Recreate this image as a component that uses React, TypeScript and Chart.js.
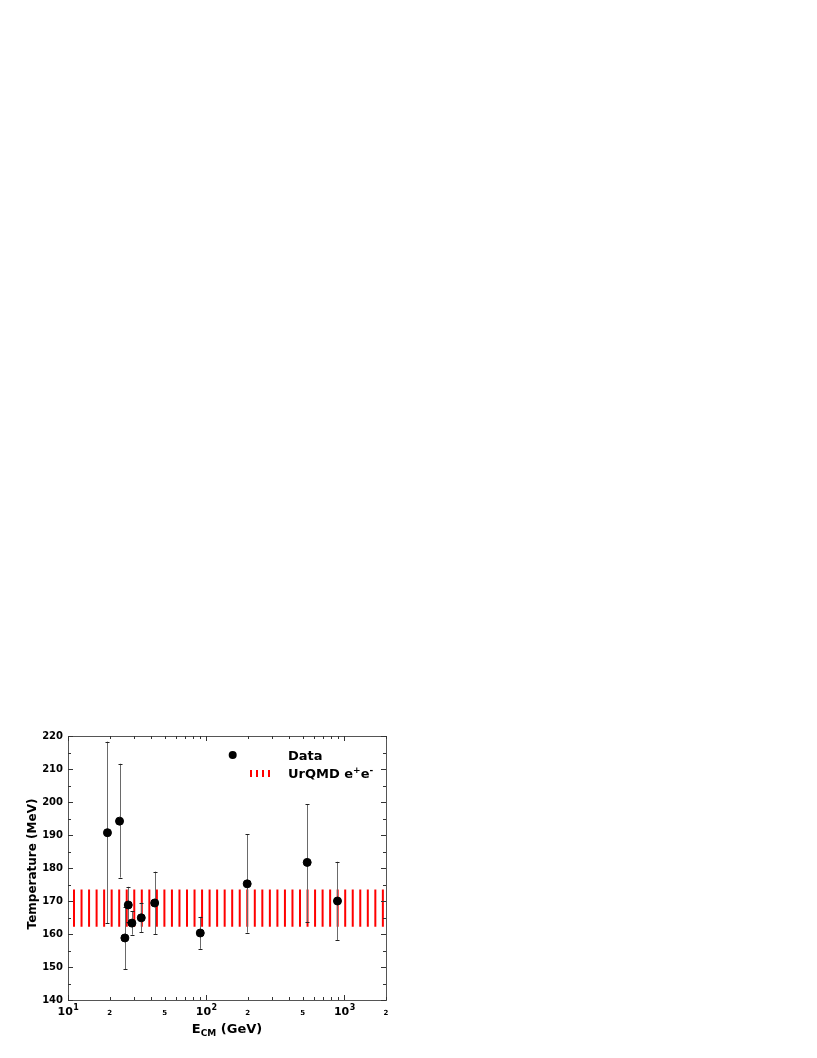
import { useEffect, useRef } from "react";
import { Chart, registerables } from "chart.js";

Chart.register(...registerables);

// ---- data ----
const energies = [19.3, 23.6, 25.8, 27.3, 29.0, 33.9, 42.4, 90.6, 198, 538, 891];
const temperatures = [190.7, 194.2, 158.8, 168.8, 163.3, 164.9, 169.4, 160.3, 175.2, 181.7, 170.0];
const errUpper = [218.3, 211.6, 168.3, 174.3, 167.0, 169.5, 178.9, 165.2, 190.2, 199.3, 181.9];
const errLower = [163.2, 177.1, 149.3, 163.5, 159.8, 160.6, 160.0, 155.5, 160.4, 163.7, 158.2];
const bandX = [10, 2000];
const bandHigh = 173.5;
const bandLow = 162.2;
const yTickValues = [140, 150, 160, 170, 180, 190, 200, 210, 220];
const xTickValues = [10, 20, 50, 100, 200, 500, 1000, 2000];
const xTickBase = ["10", "2", "5", "10", "2", "5", "10", "2"];
const xTickExp = ["1", "", "", "2", "", "", "3", ""];
const legendLabels = ["Data", "UrQMD e+e-"];
const yTitle = "Temperature (MeV)";

const FONT = "'DejaVu Sans', 'Liberation Sans', sans-serif";
const W = 801;
const H = 1042;

export default function App() {
  const ref = useRef<HTMLCanvasElement>(null);

  useEffect(() => {
    const canvas = ref.current!;
    const ctx0 = canvas.getContext("2d")!;

    // striped pattern (vertical red dashes)
    const period = 113 / 15;
    const pc = document.createElement("canvas");
    pc.width = 113;
    pc.height = 8;
    const pctx = pc.getContext("2d")!;
    pctx.fillStyle = "#ff0000";
    for (let k = 0; k < 15; k++) {
      const c = (((66 + period * k) % 113) + 113) % 113;
      pctx.fillRect(c - 1, 0, 2, 8);
      if (c - 1 < 0) pctx.fillRect(c - 1 + 113, 0, 2, 8);
      if (c + 1 > 113) pctx.fillRect(c - 1 - 113, 0, 2, 8);
    }
    const pattern = ctx0.createPattern(pc, "repeat")!;

    const decor = {
      id: "decor",
      afterDatasetDraw(chart: any, args: any) {
        if (args.index !== 1) return;
        const { ctx, scales } = chart;
        const x = scales.x;
        const y = scales.y;
        ctx.save();
        energies.forEach((e, i) => {
          const px = Math.round(x.getPixelForValue(e)) + 0.5;
          const top = y.getPixelForValue(errUpper[i]);
          const bot = y.getPixelForValue(errLower[i]);
          ctx.strokeStyle = "#6a6a6a";
          ctx.lineWidth = 1;
          ctx.beginPath();
          ctx.moveTo(px, top);
          ctx.lineTo(px, bot);
          ctx.stroke();
          ctx.strokeStyle = "#222";
          ctx.beginPath();
          ctx.moveTo(px - 2, Math.round(top) + 0.5);
          ctx.lineTo(px + 2, Math.round(top) + 0.5);
          ctx.moveTo(px - 2, Math.round(bot) + 0.5);
          ctx.lineTo(px + 2, Math.round(bot) + 0.5);
          ctx.stroke();
        });
        ctx.restore();
      },
      afterDraw(chart: any) {
        const { ctx, chartArea, scales } = chart;
        const x = scales.x;
        const y = scales.y;
        const { left, right, top, bottom } = chartArea;
        ctx.save();
        // frame
        ctx.strokeStyle = "#555";
        ctx.lineWidth = 1;
        ctx.strokeRect(Math.round(left) + 0.5, Math.round(top) + 0.5, Math.round(right - left), Math.round(bottom - top));

        // y ticks (inward, both sides)
        ctx.strokeStyle = "#333";
        ctx.beginPath();
        for (let v = 140; v <= 220; v += 5) {
          const py = Math.round(y.getPixelForValue(v)) + 0.5;
          const len = v % 10 === 0 ? 5 : 3;
          ctx.moveTo(left, py);
          ctx.lineTo(left + len, py);
          ctx.moveTo(right, py);
          ctx.lineTo(right - len, py);
        }
        // x ticks (inward, bottom and top)
        for (const d of [10, 100, 1000]) {
          for (let m = 1; m <= 9; m++) {
            const v = d * m;
            if (v > 2000) continue;
            const px = Math.round(x.getPixelForValue(v)) + 0.5;
            const len = m === 1 ? 5 : 3;
            ctx.moveTo(px, bottom);
            ctx.lineTo(px, bottom - len);
            ctx.moveTo(px, top);
            ctx.lineTo(px, top + len);
          }
        }
        ctx.stroke();

        // x tick labels
        ctx.fillStyle = "#000";
        ctx.textBaseline = "alphabetic";
        ctx.textAlign = "left";
        xTickValues.forEach((v, i) => {
          const px = x.getPixelForValue(v);
          if (xTickExp[i]) {
            ctx.font = `bold 11px ${FONT}`;
            const wb = ctx.measureText(xTickBase[i]).width;
            ctx.font = `bold 8px ${FONT}`;
            const we = ctx.measureText(xTickExp[i]).width;
            const start = px - (wb + we) / 2;
            ctx.font = `bold 11px ${FONT}`;
            ctx.fillText(xTickBase[i], start, 1007);
            ctx.font = `bold 8px ${FONT}`;
            ctx.fillText(xTickExp[i], start + wb + 0.5, 1002);
          } else {
            ctx.font = `bold 7px ${FONT}`;
            const wb = ctx.measureText(xTickBase[i]).width;
            ctx.fillText(xTickBase[i], px - wb / 2, 1007);
          }
        });

        // x title: E_CM (GeV)
        const cx = (left + right) / 2;
        ctx.font = `bold 13px ${FONT}`;
        const wE = ctx.measureText("E").width;
        const wRest = ctx.measureText(" (GeV)").width;
        ctx.font = `bold 9px ${FONT}`;
        const wCM = ctx.measureText("CM").width;
        let sx = cx - (wE + wCM + wRest) / 2;
        ctx.font = `bold 13px ${FONT}`;
        ctx.fillText("E", sx, 1025);
        sx += wE;
        ctx.font = `bold 9px ${FONT}`;
        ctx.fillText("CM", sx, 1028);
        sx += wCM;
        ctx.font = `bold 13px ${FONT}`;
        ctx.fillText(" (GeV)", sx, 1025);

        // y title
        ctx.save();
        ctx.translate(25, (top + bottom) / 2 - 4);
        ctx.rotate(-Math.PI / 2);
        ctx.textAlign = "center";
        ctx.textBaseline = "middle";
        ctx.font = `bold 12px ${FONT}`;
        ctx.fillText(yTitle, 0, 0);
        ctx.restore();

        // legend
        ctx.fillStyle = "#000";
        ctx.beginPath();
        ctx.arc(224.7, 747, 4, 0, Math.PI * 2);
        ctx.fill();
        ctx.font = `bold 13px ${FONT}`;
        ctx.textAlign = "left";
        ctx.fillText(legendLabels[0], 280, 752);
        ctx.fillStyle = "#ff0000";
        for (let k = 0; k < 4; k++) {
          ctx.fillRect(242 + k * 6, 762, 2, 7);
        }
        ctx.fillStyle = "#000";
        let lx = 280;
        const parts: [string, boolean][] = [["UrQMD e", false], ["+", true], ["e", false], ["-", true]];
        for (const [t, sup] of parts) {
          ctx.font = sup ? `bold 9px ${FONT}` : `bold 13px ${FONT}`;
          ctx.fillText(t, lx, sup ? 765 : 770);
          lx += ctx.measureText(t).width;
        }
        ctx.restore();
      },
    };

    const chart = new Chart(canvas, {
      type: "scatter",
      data: {
        datasets: [
          {
            label: legendLabels[0],
            data: energies.map((e, i) => ({ x: e, y: temperatures[i] })),
            backgroundColor: "#000",
            borderColor: "#000",
            pointRadius: 4,
            pointHoverRadius: 4,
          },
          {
            type: "line",
            label: legendLabels[1],
            data: bandX.map((e) => ({ x: e, y: bandHigh })),
            showLine: true,
            borderWidth: 0,
            borderColor: "rgba(0,0,0,0)",
            pointRadius: 0,
            backgroundColor: pattern as any,
            fill: { value: bandLow },
          } as any,
        ],
      },
      options: {
        responsive: false,
        animation: false,
        events: [],
        layout: { padding: { left: 0, top: 728, right: W - 378, bottom: 0 } },
        plugins: { legend: { display: false }, tooltip: { enabled: false } },
        scales: {
          x: {
            type: "logarithmic",
            min: 10,
            max: 2000,
            grid: { display: false, drawTicks: false },
            border: { display: false },
            ticks: { display: false },
            afterFit: (s: any) => {
              s.height = H - 992;
            },
          },
          y: {
            type: "linear",
            min: 140,
            max: 220,
            grid: { display: false, drawTicks: false },
            border: { display: false },
            afterBuildTicks: (s: any) => {
              s.ticks = yTickValues.map((v) => ({ value: v }));
            },
            ticks: {
              autoSkip: false,
              padding: 5,
              color: "#000",
              font: { family: FONT, weight: "bold", size: 10 },
            },
            afterFit: (s: any) => {
              s.width = 60;
            },
          },
        },
      },
      plugins: [decor],
    });

    return () => chart.destroy();
  }, []);

  return (
    <div style={{ width: W, height: H }}>
      <canvas ref={ref} width={W} height={H} style={{ width: W, height: H, display: "block" }} />
    </div>
  );
}
